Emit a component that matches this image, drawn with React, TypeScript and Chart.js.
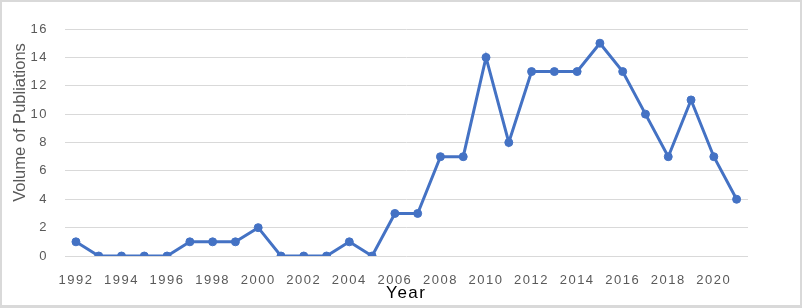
import React, { useEffect, useRef } from "react";
import { Chart, registerables } from "chart.js";

Chart.register(...registerables);

const years: string[] = [
  "1992", "1993", "1994", "1995", "1996", "1997", "1998", "1999", "2000", "2001",
  "2002", "2003", "2004", "2005", "2006", "2007", "2008", "2009", "2010", "2011",
  "2012", "2013", "2014", "2015", "2016", "2017", "2018", "2019", "2020", "2021",
];
const publications: number[] = [
  1, 0, 0, 0, 0, 1, 1, 1, 2, 0,
  0, 0, 1, 0, 3, 3, 7, 7, 14, 8,
  13, 13, 13, 15, 13, 10, 7, 11, 7, 4,
];
const yTicks = { min: 0, max: 16, step: 2 };
const xTitle = "Year";
const yTitle = "Volume of Publiations";

const SPACING = "1.5px";
const FONT = "'Liberation Sans', Arial, sans-serif";

const spacingPlugin = {
  id: "letterSpacing",
  beforeInit(chart: any) {
    (chart.ctx as any).letterSpacing = SPACING;
  },
  beforeLayout(chart: any) {
    (chart.ctx as any).letterSpacing = SPACING;
  },
  afterLayout(chart: any) {
    const y = chart.scales.y;
    if (y && !y.__wrapped) {
      const orig = y.drawTitle.bind(y);
      y.drawTitle = (...args: any[]) => {
        const ctx = chart.ctx as any;
        ctx.save();
        ctx.letterSpacing = "0px";
        ctx.translate(0, -20);
        orig(...args);
        ctx.restore();
      };
      y.__wrapped = true;
    }
  },
  beforeDraw(chart: any) {
    (chart.ctx as any).letterSpacing = SPACING;
  },
};

export default function App() {
  const ref = useRef<HTMLCanvasElement | null>(null);

  useEffect(() => {
    document.body.style.margin = "0";
    const canvas = ref.current;
    if (!canvas) return;
    const chart = new Chart(canvas, {
      type: "line",
      data: {
        labels: years,
        datasets: [
          {
            data: publications,
            borderColor: "#4472C4",
            backgroundColor: "#4472C4",
            borderWidth: 3,
            pointRadius: 4,
            pointHoverRadius: 4,
            pointBorderWidth: 1,
            pointBackgroundColor: "#4472C4",
            pointBorderColor: "#4472C4",
            tension: 0,
          },
        ],
      },
      options: {
        animation: false,
        responsive: false,
        maintainAspectRatio: false,
        layout: { padding: { top: 27, left: 0, right: 52, bottom: 3 } },
        plugins: {
          legend: { display: false },
          tooltip: { enabled: false },
        },
        scales: {
          x: {
            offset: true,
            grid: { display: false, drawTicks: false },
            border: { display: false },
            ticks: {
              autoSkip: false,
              maxRotation: 0,
              minRotation: 0,
              color: "#595959",
              padding: 17,
              font: { family: FONT, size: 13 },
              callback: (_v: any, i: number) => (i % 2 === 0 ? years[i] : ""),
            },
            title: {
              display: true,
              text: xTitle,
              color: "#000000",
              padding: { top: -20.6, bottom: 0 },
              font: { family: FONT, size: 17, lineHeight: 1 },
            },
          },
          y: {
            min: yTicks.min,
            max: yTicks.max,
            grid: { color: "#d9d9d9", lineWidth: 1, drawTicks: false },
            border: { display: false },
            ticks: {
              stepSize: yTicks.step,
              color: "#595959",
              padding: 16.6,
              font: { family: FONT, size: 13 },
            },
            title: {
              display: true,
              text: yTitle,
              color: "#595959",
              padding: { top: 8.6, bottom: -16.5 },
              font: { family: FONT, size: 16.5 },
            },
          },
        },
      },
      plugins: [spacingPlugin],
    });
    return () => chart.destroy();
  }, []);

  return (
    <div
      style={{
        width: 802,
        height: 308,
        boxSizing: "border-box",
        border: "2px solid #d9d9d9",
        borderBottomWidth: 3,
        background: "#fff",
      }}
    >
      <canvas ref={ref} width={798} height={303} style={{ display: "block" }} />
    </div>
  );
}
